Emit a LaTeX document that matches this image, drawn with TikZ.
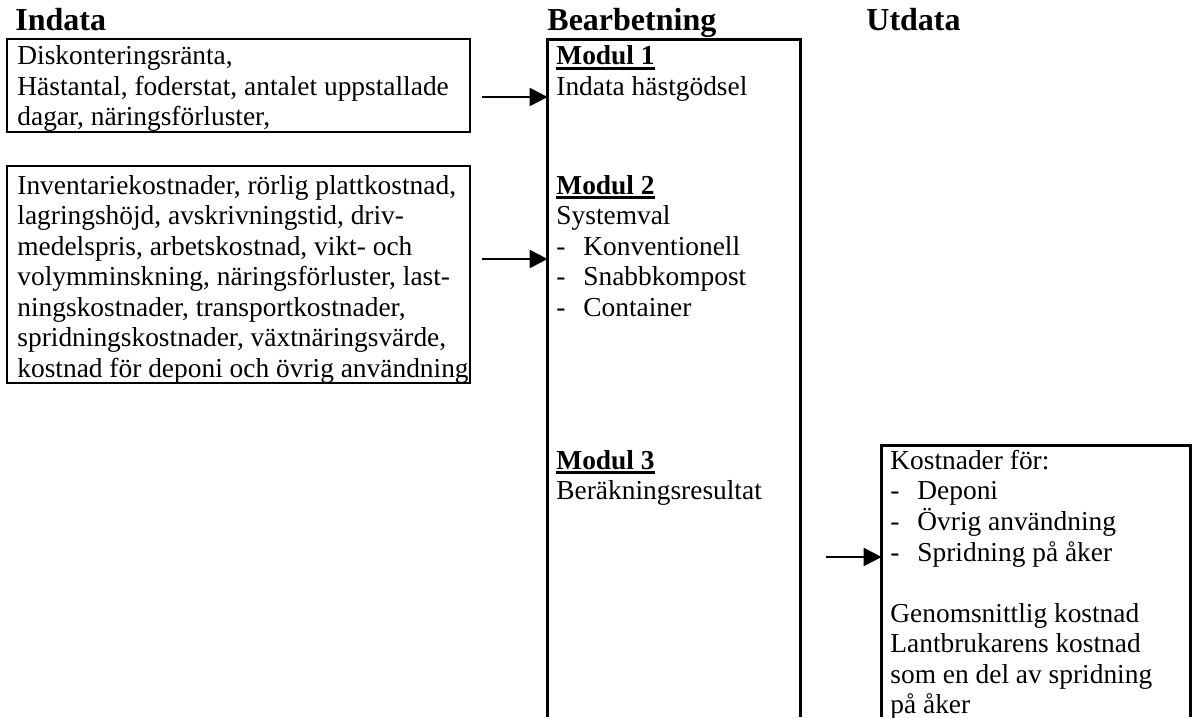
\documentclass[tikz,border=0pt]{standalone}
\usepackage{fontspec}
\setmainfont{Liberation Serif}
\usetikzlibrary{arrows.meta,fit}
% bold, thickly underlined module heading
\newcommand\modhead[1]{\setbox0=\hbox{\bfseries #1}\rlap{\rule[-2.6pt]{\wd0}{1.4pt}}\box0}
% list entry introduced by a hyphen and a tab
\newcommand\dashitem[1]{\makebox[13.5pt][l]{-}#1}
\newcommand\bodyfont{\fontsize{13.7pt}{15.25pt}\selectfont}
\newcommand\lines[1]{\begin{tabular}[t]{@{}l@{}}#1\end{tabular}}
\begin{document}
\begin{tikzpicture}[x=0.5pt,y=-0.5pt,
  frame/.style={draw,line width=1.3pt,inner sep=0pt},
  region/.style={inner sep=0pt},
  body/.style={inner sep=0pt,anchor=base west,font=\bodyfont},
  heading/.style={inner sep=0pt,anchor=base west,font=\fontsize{16pt}{19pt}\selectfont\bfseries},
  feed/.style={line width=1.1pt,-{Triangle[length=9pt,width=9pt]}}]
\useasboundingbox (0,0) rectangle (1193,717);

% column headings
\node[heading] (hin)   at (15,31)  {Indata};
\node[heading] (hproc) at (547,31) {Bearbetning};
\node[heading] (hout)  at (866,31) {Utdata};

% input boxes
\node[frame,fit={(7,39) (470,132)}]  (in1) {};
\node[frame,fit={(7,166) (470,383)}] (in2) {};
\node[body] (in1text) at (17,65) {\lines{Diskonteringsränta,\\
  Hästantal, foderstat, antalet uppstallade\\
  dagar, näringsförluster,}};
\node[body] (in2text) at (17,194) {\lines{Inventariekostnader, rörlig plattkostnad,\\
  lagringshöjd, avskrivningstid, driv-\\
  medelspris, arbetskostnad, vikt- och\\
  volymminskning, näringsförluster, last-\\
  ningskostnader, transportkostnader,\\
  spridningskostnader, växtnäringsvärde,\\
  kostnad för deponi och övrig användning}};

% processing column, open at the bottom
\node[region,fit={(548,40) (800,717)}] (proc) {};
\draw[line width=1.3pt] (proc.south west) -- (proc.north west) -- (proc.north east) -- (proc.south east);
\node[body] (mod1) at (556,65) {\lines{\modhead{Modul 1}\\ Indata hästgödsel}};
\node[body] (mod2) at (556,194) {\lines{\modhead{Modul 2}\\ Systemval\\
  \dashitem{Konventionell}\\ \dashitem{Snabbkompost}\\ \dashitem{Container}}};
\node[body] (mod3) at (556,469) {\lines{\modhead{Modul 3}\\ Beräkningsresultat}};

% output box, open at the bottom
\node[region,fit={(882,446) (1190,717)}] (out) {};
\draw[line width=1.3pt] (out.south west) -- (out.north west) -- (out.north east) -- (out.south east);
\node[body] (outtext) at (890,469) {\lines{Kostnader för:\\
  \dashitem{Deponi}\\ \dashitem{Övrig användning}\\ \dashitem{Spridning på åker}\\
  \\
  Genomsnittlig kostnad\\ Lantbrukarens kostnad\\ som en del av spridning\\ på åker}};

% flow arrows
\coordinate (s1) at (482,97);
\coordinate (s2) at (482,259);
\coordinate (s3) at (826,557);
\draw[feed] (s1) -- (s1 -| proc.west);
\draw[feed] (s2) -- (s2 -| proc.west);
\draw[feed] (s3) -- (s3 -| out.west);
\end{tikzpicture}
\end{document}
